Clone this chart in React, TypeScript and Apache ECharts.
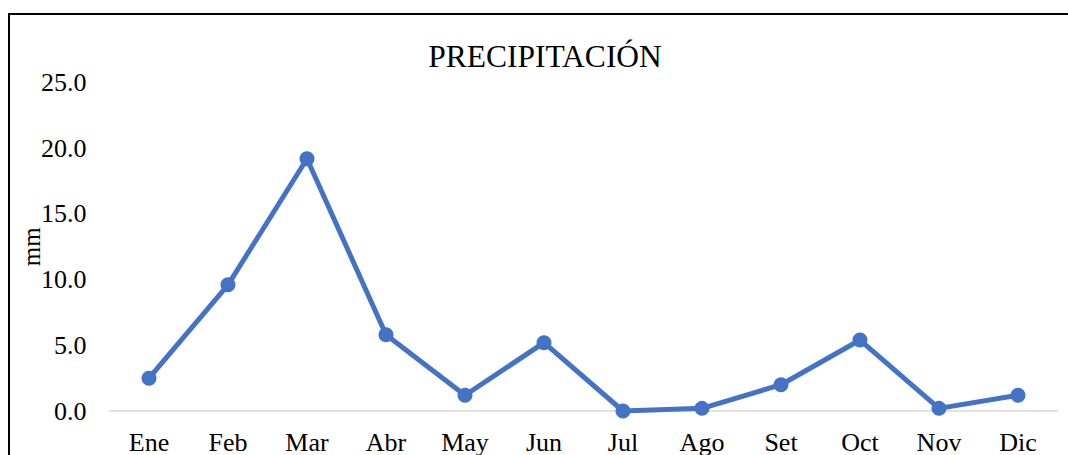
import React, { useEffect, useRef } from "react";
import * as echarts from "echarts";

const categories = ["Ene", "Feb", "Mar", "Abr", "May", "Jun", "Jul", "Ago", "Set", "Oct", "Nov", "Dic"];
const precipitation = [2.5, 9.6, 19.2, 5.8, 1.2, 5.2, 0.0, 0.2, 2.0, 5.4, 0.2, 1.2];
const titleText = "PRECIPITACIÓN";
const yAxisName = "mm";

const FONT = "'Liberation Serif', 'Times New Roman', serif";

export default function App() {
  const ref = useRef<HTMLDivElement>(null);
  useEffect(() => {
    if (!ref.current) return;
    const chart = echarts.init(ref.current, undefined, { renderer: "svg" });
    chart.setOption({
      animation: false,
      backgroundColor: "#ffffff",
      title: {
        text: titleText,
        left: 540,
        top: 35,
        textAlign: "center",
        textStyle: { fontFamily: FONT, fontSize: 31.5, fontWeight: "normal", color: "#000" },
      },
      graphic: [
        {
          type: "polyline",
          shape: { points: [[9, 455], [9, 14], [1068, 14]] },
          style: { fill: "none", stroke: "#000", lineWidth: 2 },
          silent: true,
        },
      ],
      grid: { left: 109.5, right: 10.5, top: 82.5, bottom: 42.5 },
      xAxis: {
        type: "category",
        data: categories,
        boundaryGap: true,
        axisLine: { show: true, lineStyle: { color: "#D9D9D9", width: 1.5 } },
        axisTick: { show: false },
        axisLabel: { fontFamily: FONT, fontSize: 26, color: "#000", margin: 18 },
      },
      yAxis: {
        type: "value",
        min: 0,
        max: 25,
        interval: 5,
        name: yAxisName,
        nameLocation: "middle",
        nameGap: 66,
        nameRotate: 90,
        nameMoveOverlap: false,
        nameTextStyle: { fontFamily: FONT, fontSize: 25, color: "#000" },
        axisLine: { show: false },
        axisTick: { show: false },
        splitLine: { show: false },
        axisLabel: {
          fontFamily: FONT,
          fontSize: 26,
          color: "#000",
          margin: 23,
          formatter: (v: number) => v.toFixed(1),
        },
      },
      series: [
        {
          type: "line",
          data: precipitation,
          symbol: "circle",
          symbolSize: 15,
          lineStyle: { color: "#4472C4", width: 5 },
          itemStyle: { color: "#4472C4" },
        },
      ],
    });
    return () => chart.dispose();
  }, []);
  return (
    <div
      ref={ref}
      style={{ position: "fixed", left: 0, top: 0, width: 1068, height: 455 }}
    />
  );
}
